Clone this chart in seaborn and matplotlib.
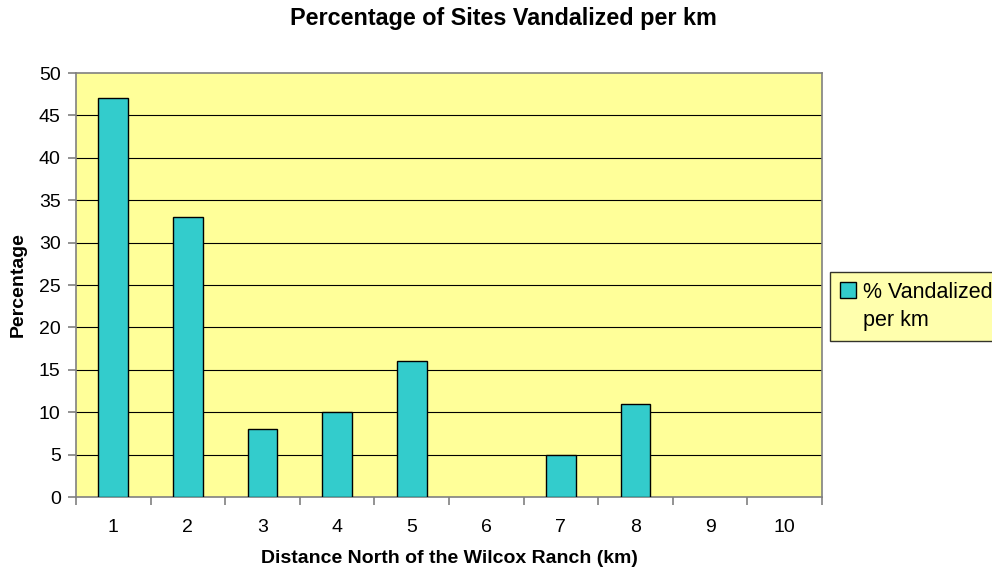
import numpy as np
import pandas as pd
import matplotlib
matplotlib.use("Agg")
import matplotlib.pyplot as plt
import seaborn as sns
from matplotlib.patches import Patch

# dados
distancia_km = ["1", "2", "3", "4", "5", "6", "7", "8", "9", "10"]
pct_vandalizado = [47, 33, 8, 10, 16, 0, 5, 11, 0, 0]
y_ticks = list(range(0, 55, 5))

sns.set_theme(style="white")
plt.rcParams['font.family'] = ['Liberation Sans', 'DejaVu Sans']
plt.rcParams['text.color'] = 'black'
plt.rcParams['axes.labelcolor'] = 'black'
plt.rcParams['xtick.color'] = 'black'
plt.rcParams['ytick.color'] = 'black'

df = pd.DataFrame({"km": distancia_km, "pct": pct_vandalizado})

fig = plt.figure(figsize=(9.92, 5.69), dpi=100)
ax = fig.add_axes([76 / 992, 1 - 497 / 569, (822 - 76) / 992, (497 - 73) / 569])
ax.set_facecolor("#FFFF99")

sns.barplot(data=df, x="km", y="pct", color="#33CCCC", width=0.4,
            edgecolor="black", linewidth=1, saturation=1, ax=ax, zorder=3)
# barras de altura zero nao aparecem no original
for p in ax.patches:
    if p.get_height() == 0:
        p.set_linewidth(0)

ax.set_ylim(0, 50)
ax.set_xlim(-0.5, len(distancia_km) - 0.5)
ax.set_yticks(y_ticks)
for y in y_ticks[1:-1]:
    ax.axhline(y, color="black", lw=0.8, zorder=1)

# ticks do eixo x entre categorias
ax.set_xticks(np.arange(len(distancia_km)))
ax.set_xticklabels(distancia_km)
ax.set_xticks(np.arange(-0.5, len(distancia_km) + 0.5, 1), minor=True)
ax.tick_params(axis="x", which="major", bottom=True, length=0, pad=16, labelsize=14)
ax.tick_params(axis="x", which="minor", bottom=True, length=6, width=1.2, color="#808080", direction="out")
ax.tick_params(axis="y", left=True, length=6, width=1.2, color="#808080", direction="out", labelsize=14, pad=5)

for s in ax.spines.values():
    s.set_color("#808080")
    s.set_linewidth(1.2)
    s.set_visible(True)

ax.set_xlabel("Distance North of the Wilcox Ranch (km)", fontsize=14, fontweight="bold", labelpad=10)
ax.set_ylabel("Percentage", fontsize=14, fontweight="bold", labelpad=9)
fig.suptitle("Percentage of Sites Vandalized per km", fontsize=16.8, fontweight="bold",
             x=503 / 992, y=1 - 18 / 569, va="center")

# legenda: marcador alinhado com a primeira linha do texto
handles = [Patch(facecolor="#33CCCC", edgecolor="black", label="% Vandalized"),
           Patch(facecolor="none", edgecolor="none", label="per km")]
leg = fig.legend(handles=handles,
                 loc="upper left", bbox_to_anchor=(830 / 992, 1 - 272 / 569),
                 fontsize=15.5, frameon=True, fancybox=False, handlelength=0.75, handleheight=0.75,
                 handletextpad=0.35, borderpad=0.45, borderaxespad=0, labelspacing=0.35)
leg.get_frame().set_facecolor("#FFFF99")
leg.get_frame().set_edgecolor("black")
leg.get_frame().set_linewidth(1)

fig.savefig("out.png", dpi=100)
